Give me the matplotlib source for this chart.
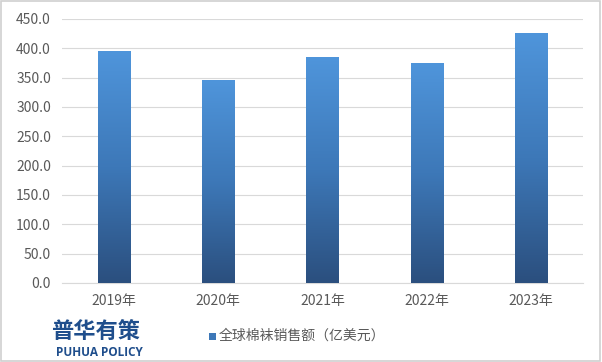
import matplotlib
matplotlib.use("Agg")
import matplotlib.pyplot as plt
import numpy as np
from matplotlib.colors import LinearSegmentedColormap
from matplotlib.patches import Rectangle

plt.rcParams['font.family'] = ['Noto Sans CJK SC', 'DejaVu Sans']

categories = ["2019年", "2020年", "2021年", "2022年", "2023年"]
values = [394.5, 346.0, 383.8, 374.3, 425.3]
yticks = [0, 50, 100, 150, 200, 250, 300, 350, 400, 450]
legend_label = "全球棉袜销售额（亿美元）"

fig = plt.figure(figsize=(6.02, 3.62), dpi=100)
ax = fig.add_axes([62/602, 1 - 283/362, (583-62)/602, (283-19)/362])

x = np.arange(len(categories))
bw = 0.31
bars = ax.bar(x, values, width=bw, color='none', edgecolor='none')
cmap = LinearSegmentedColormap.from_list('g', ['#2b4f7e', '#3d78b8', '#4f95db'])
grad = np.linspace(0, 1, 256).reshape(-1, 1)
for b in bars:
    x0, y0, w, h = b.get_x(), b.get_y(), b.get_width(), b.get_height()
    ax.imshow(grad, extent=[x0, x0 + w, y0, y0 + h], origin='lower', cmap=cmap,
              aspect='auto', zorder=3)

ax.set_xlim(-0.5, len(categories) - 0.5)
ax.set_ylim(0, 450)
ax.set_yticks(yticks)
ax.set_yticklabels([f"{v:.1f}" for v in yticks], fontsize=10, color='#595959')
ax.set_xticks(x)
ax.set_xticklabels(categories, fontsize=10, color='#595959')
ax.tick_params(length=0, pad=8)
ax.grid(axis='y', color='#d9d9d9', linewidth=0.8, zorder=0)
for s in ['top', 'right', 'left']:
    ax.spines[s].set_visible(False)
ax.spines['bottom'].set_color('#d9d9d9')

# legend
fig.patches.append(Rectangle((209/602, 1 - 340/362), 7/602, 7/362, transform=fig.transFigure,
                             facecolor='#3d78b8', edgecolor='none'))
fig.text(219/602, 1 - 336/362, legend_label, fontsize=10, color='#595959', va='center', ha='left')

# logo
fig.text(96/602, 1 - 331/362, "普华有策", fontsize=16, fontweight='heavy', color='#1f4e8c',
         ha='center', va='center')
fig.text(99/602, 1 - 353/362, "PUHUA POLICY", fontsize=8.5, fontweight='bold', color='#1f4e8c',
         ha='center', va='center', family=['Open Sans', 'DejaVu Sans'])

# border
fig.patches.append(Rectangle((0.002, 0.004), 0.995, 0.992, transform=fig.transFigure,
                             facecolor='none', edgecolor='#d0d0d0', linewidth=1.2))

fig.savefig("out.png", dpi=100)
